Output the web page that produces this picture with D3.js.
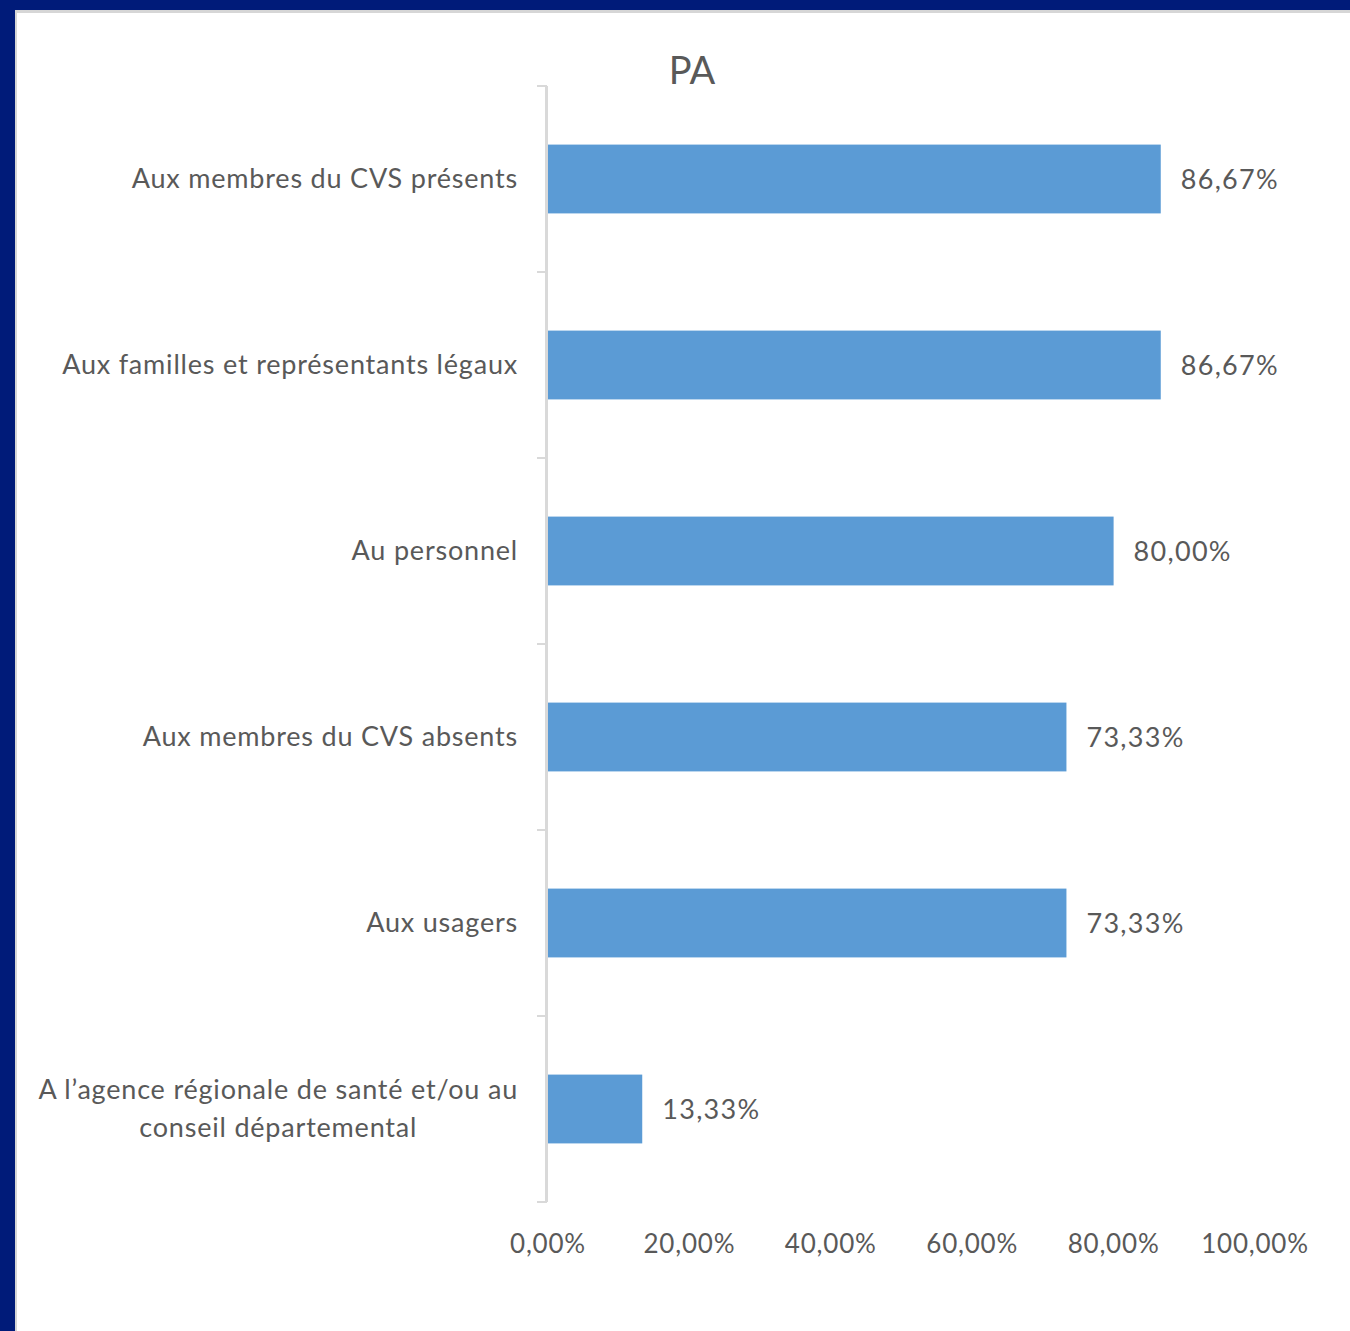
<!DOCTYPE html>
<html><head><meta charset="utf-8">
<script src="https://cdn.jsdelivr.net/npm/d3@7"></script>
<style>html,body{margin:0;padding:0;background:#fff;}svg{display:block;}</style>
</head><body>
<script>
const categories = [
  "Aux membres du CVS présents",
  "Aux familles et représentants légaux",
  "Au personnel",
  "Aux membres du CVS absents",
  "Aux usagers",
  "A l’agence régionale de santé et/ou au|conseil départemental"
];
const values = [86.67, 86.67, 80.00, 73.33, 73.33, 13.33];
const tickValues = [0, 20, 40, 60, 80, 100];
const title = "PA";

const W = 1350, H = 1331;
const svg = d3.select("body").append("svg").attr("width", W).attr("height", H);
// frame
svg.append("rect").attr("x",0).attr("y",0).attr("width",W).attr("height",H).attr("fill","#001b79");
svg.append("rect").attr("x",15).attr("y",10).attr("width",W-15).attr("height",H-10).attr("fill","#d6d6d6");
svg.append("rect").attr("x",17).attr("y",13).attr("width",W-17).attr("height",H-13).attr("fill","#ffffff");

const font = "Lato, 'Open Sans', sans-serif";
const txt = "#595959";
const x = d3.scaleLinear().domain([0,100]).range([548, 1255]);
const y = d3.scaleBand().domain(categories).range([86, 1202]).paddingInner(0.63).paddingOuter(0.315);

// title
svg.append("text").attr("x",692).attr("y",84).attr("text-anchor","middle")
  .attr("font-family",font).attr("font-size",38).attr("fill",txt).text(title);

// bars
svg.selectAll("rect.bar").data(values).enter().append("rect").attr("class","bar")
  .attr("x", x(0)).attr("y",(d,i)=>y(categories[i]))
  .attr("width", d=>x(d)-x(0)).attr("height", y.bandwidth()).attr("fill","#5b9bd5");

// axis line and ticks
const ax = svg.append("g");
ax.append("line").attr("x1",546.5).attr("x2",546.5).attr("y1",86).attr("y2",1202)
  .attr("stroke","#d9d9d9").attr("stroke-width",3);
const step = (1202-86)/categories.length;
d3.range(categories.length+1).forEach(i=>{
  ax.append("line").attr("x1",537).attr("x2",547).attr("y1",86+i*step).attr("y2",86+i*step)
    .attr("stroke","#d9d9d9").attr("stroke-width",2);
});

const fmt = v => v.toFixed(2).replace(".", ",") + "%";
// x tick labels
svg.selectAll("text.xt").data(tickValues).enter().append("text").attr("class","xt")
  .attr("x", d=>x(d)).attr("y",1253).attr("text-anchor","middle")
  .attr("font-family",font).attr("font-size",26).attr("letter-spacing","0.8px").attr("fill",txt).text(fmt);

// value labels
svg.selectAll("text.vl").data(values).enter().append("text").attr("class","vl")
  .attr("x", d=>x(d)+20).attr("y",(d,i)=>y(categories[i])+y.bandwidth()/2+1)
  .attr("dy","0.35em").attr("font-family",font).attr("font-size",27).attr("letter-spacing","1.3px").attr("fill",txt).text(fmt);

// category labels
categories.forEach((c,i)=>{
  const lines = c.split("|");
  const cy = y(c)+y.bandwidth()/2;
  if (lines.length===1) {
    svg.append("text").attr("x",518).attr("y",cy).attr("dy","0.35em").attr("text-anchor","end")
      .attr("font-family",font).attr("font-size",27).attr("letter-spacing","0.8px").attr("fill",txt).text(lines[0]);
  } else {
    const g = svg.append("g");
    const t = g.append("text").attr("font-family",font).attr("font-size",27).attr("letter-spacing","0.8px").attr("fill",txt).attr("text-anchor","middle");
    lines.forEach((l,j)=>{
      t.append("tspan").attr("x",0).attr("y",cy + (j-(lines.length-1)/2)*38).attr("dy","0.35em").text(l);
    });
    const w = t.node().getBBox().width;
    g.attr("transform",`translate(${518 - w/2},0)`);
  }
});
</script>
</body></html>
